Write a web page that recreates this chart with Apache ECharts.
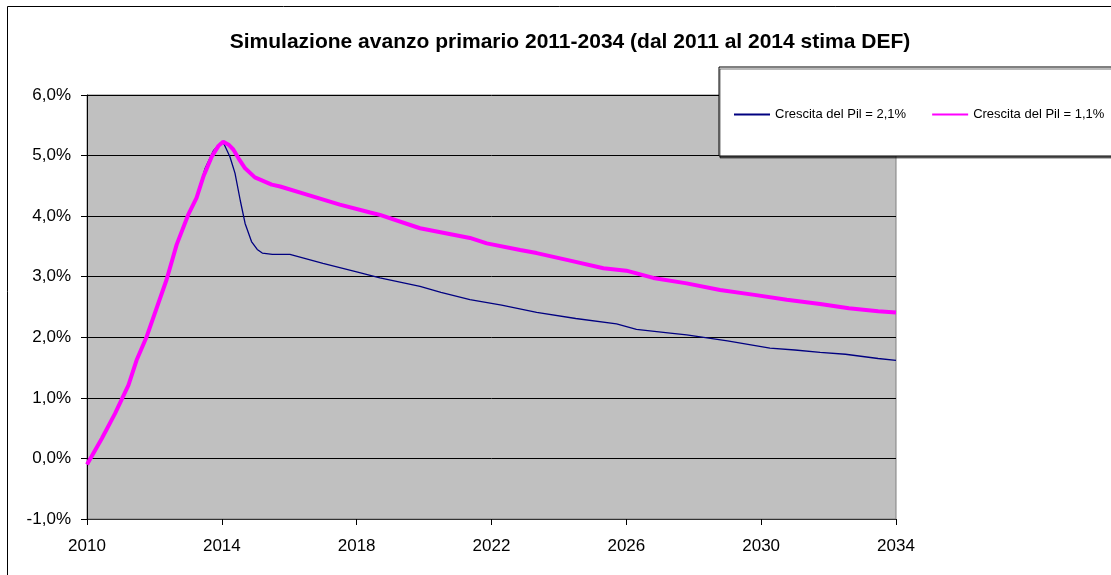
<!DOCTYPE html>
<html>
<head>
<meta charset="utf-8">
<script src="https://cdn.jsdelivr.net/npm/echarts@6/dist/echarts.min.js"></script>
<style>
html,body{margin:0;padding:0;background:#fff;}
#chart{width:1111px;height:575px;}
</style>
</head>
<body>
<div id="chart"></div>
<script>
const titleText = 'Simulazione avanzo primario 2011-2034 (dal 2011 al 2014 stima DEF)';
const seriesNames = ['Crescita del Pil = 2,1%', 'Crescita del Pil = 1,1%'];

const yearsA = [2010.0, 2010.44, 2010.83, 2011.23, 2011.47, 2011.77, 2012.36, 2012.66, 2013.0, 2013.25, 2013.5, 2013.75, 2013.95, 2014.04, 2014.24, 2014.39, 2014.55, 2014.69, 2014.88, 2015.05, 2015.2, 2015.5, 2016.02, 2017.0, 2018.0, 2018.69, 2019.88, 2020.5, 2021.36, 2022.3, 2023.34, 2024.5, 2025.71, 2026.3, 2027.3, 2027.79, 2029.0, 2030.26, 2031.0, 2031.75, 2032.5, 2033.47, 2034.0];
const valuesA = [-0.08, 0.33, 0.74, 1.21, 1.62, 2.01, 2.95, 3.53, 4.02, 4.32, 4.78, 5.08, 5.20, 5.22, 4.98, 4.71, 4.25, 3.88, 3.58, 3.45, 3.39, 3.37, 3.37, 3.22, 3.08, 2.98, 2.84, 2.74, 2.62, 2.53, 2.41, 2.31, 2.22, 2.13, 2.07, 2.04, 1.94, 1.82, 1.79, 1.75, 1.72, 1.65, 1.62];

const yearsB = [2010.0, 2010.44, 2010.83, 2011.23, 2011.47, 2011.77, 2012.36, 2012.66, 2013.0, 2013.25, 2013.45, 2013.7, 2013.9, 2014.04, 2014.2, 2014.34, 2014.5, 2014.69, 2014.98, 2015.48, 2015.73, 2016.5, 2017.5, 2018.4, 2018.69, 2019.88, 2021.36, 2021.86, 2022.85, 2023.34, 2024.3, 2025.32, 2026.0, 2026.8, 2027.79, 2028.78, 2029.8, 2030.76, 2031.75, 2032.6, 2033.47, 2034.0];
const valuesB = [-0.10, 0.33, 0.74, 1.21, 1.62, 2.01, 2.95, 3.53, 4.02, 4.30, 4.65, 4.98, 5.16, 5.23, 5.18, 5.10, 4.95, 4.79, 4.64, 4.52, 4.49, 4.36, 4.19, 4.06, 4.02, 3.80, 3.64, 3.55, 3.44, 3.39, 3.27, 3.14, 3.10, 2.98, 2.89, 2.78, 2.70, 2.62, 2.55, 2.48, 2.43, 2.41];

const xMin = 2010, xMax = 2034, xStep = 4;
const yMin = -1, yMax = 6, yStep = 1;

const pair = (xs, ys) => xs.map((x, i) => [x, ys[i]]);
const font = 'Arial, "Liberation Sans", sans-serif';

const chart = echarts.init(document.getElementById('chart'), null, {renderer: 'canvas'});
chart.setOption({
  animation: false,
  backgroundColor: '#ffffff',
  title: {
    text: titleText,
    left: 565, top: 27, textAlign: 'center',
    textStyle: {fontFamily: font, fontSize: 21, fontWeight: 'bold', color: '#000'}
  },
  graphic: [{
    type: 'rect', z: -10, silent: true,
    shape: {x: 7.5, y: 6.5, width: 1300, height: 800},
    style: {fill: null, stroke: '#000', lineWidth: 1}
  }],
  legend: {
    left: 719, top: 67, width: 900,
    orient: 'horizontal',
    padding: [41, 160, 35, 14],
    itemWidth: 36, itemHeight: 14, itemGap: 25,
    backgroundColor: '#fff', borderColor: '#000', borderWidth: 1,
    shadowColor: 'rgba(0,0,0,0.55)', shadowOffsetX: 1, shadowOffsetY: 2, shadowBlur: 0,
    itemStyle: {color: 'rgba(0,0,0,0)', borderColor: 'rgba(0,0,0,0)', borderWidth: 0},
    textStyle: {fontFamily: font, fontSize: 13, color: '#000'},
    data: seriesNames
  },
  grid: {
    left: 87, top: 95, right: 215, bottom: 56,
    show: true, backgroundColor: '#C0C0C0', borderColor: '#808080', borderWidth: 1
  },
  xAxis: {
    type: 'value', min: xMin, max: xMax, interval: xStep,
    axisLine: {show: true, onZero: false, lineStyle: {color: '#333', width: 1}},
    axisTick: {show: true, length: 6, lineStyle: {color: '#000'}},
    axisLabel: {margin: 19, fontFamily: font, fontSize: 17, color: '#000', formatter: v => String(v)},
    splitLine: {show: false}
  },
  yAxis: {
    type: 'value', min: yMin, max: yMax, interval: yStep,
    axisLine: {show: true, lineStyle: {color: '#000', width: 1}},
    axisTick: {show: true, length: 6, lineStyle: {color: '#000'}},
    axisLabel: {margin: 16, fontFamily: font, fontSize: 17, color: '#000',
      formatter: v => v.toFixed(1).replace('.', ',') + '%'},
    splitLine: {show: true, lineStyle: {color: '#000', width: 1}}
  },
  series: [{
    name: seriesNames[0], type: 'line', symbol: 'none', smooth: false,
    data: pair(yearsA, valuesA),
    lineStyle: {color: '#000080', width: 1.3}, itemStyle: {color: '#000080'}
  }, {
    name: seriesNames[1], type: 'line', symbol: 'none', smooth: false,
    data: pair(yearsB, valuesB),
    lineStyle: {color: '#FF00FF', width: 4}, itemStyle: {color: '#FF00FF'}
  }]
});
</script>
</body>
</html>
